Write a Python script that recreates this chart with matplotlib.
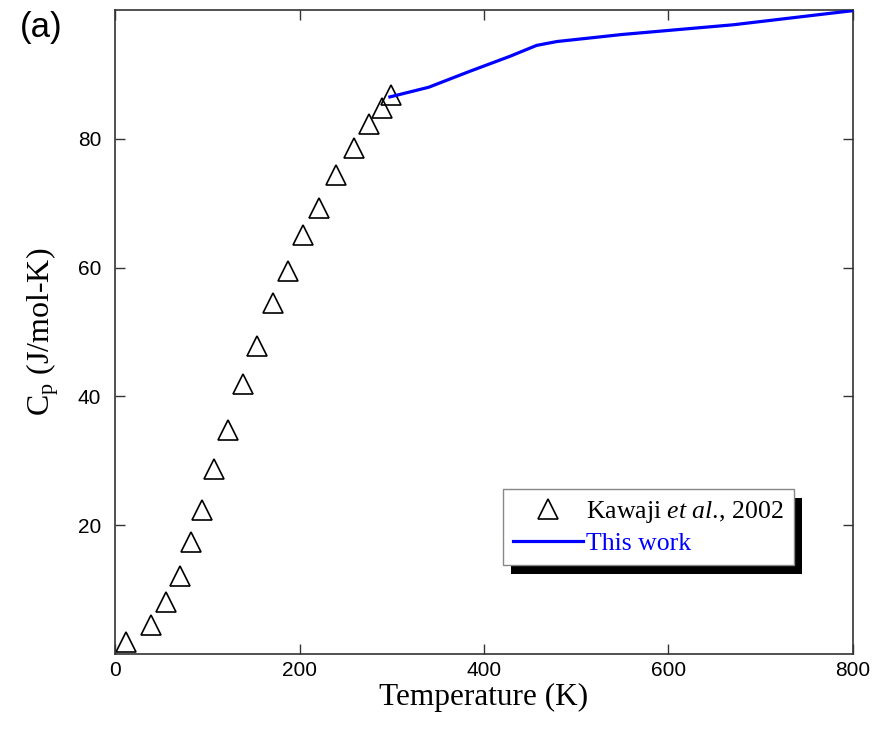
import matplotlib
matplotlib.use('Agg')
import matplotlib.pyplot as plt
from matplotlib.patches import Rectangle

plt.rcParams['mathtext.fontset'] = 'custom'
plt.rcParams['mathtext.rm'] = 'Liberation Serif'
plt.rcParams['mathtext.it'] = 'Liberation Serif:italic'

# Kawaji et al., 2002 (measured)
kawaji_T = [12, 39, 55, 70, 82, 94, 107, 122, 139, 154, 171, 187, 204, 221, 240, 259, 275, 289, 299]
kawaji_cp = [1.8, 4.5, 8.0, 12.1, 17.4, 22.3, 28.7, 34.8, 41.9, 47.8, 54.5, 59.5, 65.1, 69.3, 74.4, 78.6, 82.3, 84.8, 86.8]

# This work (calculated)
work_T = [298, 340, 385, 428, 457, 479, 550, 670, 800]
work_cp = [86.5, 88.0, 90.5, 92.8, 94.5, 95.1, 96.2, 97.7, 99.9]

fig = plt.figure(figsize=(8.76, 7.29), dpi=100)
ax = fig.add_axes([0.1313, 0.1029, 0.8424, 0.8834])

ax.plot(kawaji_T, kawaji_cp, linestyle='none', marker='^', markersize=14,
        markerfacecolor='none', markeredgecolor='black', markeredgewidth=1.2,
        label=r'Kawaji $\it{et\ al.}\!\mathrm{,}$ 2002')
ax.plot(work_T, work_cp, color='blue', linewidth=2.3, label='This work', zorder=3)

ax.set_xlim(0, 800)
ax.set_ylim(0, 100)
ax.set_xticks([0, 200, 400, 600, 800])
ax.set_yticks([20, 40, 60, 80])
ax.tick_params(direction='in', top=True, right=True, length=7, width=1,
               labelsize=15, color='#333333')
ax.tick_params(axis='x', pad=5)
ax.tick_params(axis='y', pad=10)
for lab in ax.get_xticklabels() + ax.get_yticklabels():
    lab.set_fontfamily('Liberation Sans')
for s in ax.spines.values():
    s.set_color('#333333')
    s.set_linewidth(1.2)

ax.set_xlabel('Temperature (K)', fontfamily='Liberation Serif', fontsize=22.5, labelpad=2)
ax.set_ylabel(r'C$_\mathrm{p}$ (J/mol-K)', fontfamily='Liberation Serif', fontsize=23, labelpad=12)

fig.text(0.023, 0.962, '(a)', fontfamily='Liberation Sans', fontsize=25, va='center')

leg = ax.legend(loc='upper left', bbox_to_anchor=(0.5257, 0.2562), fancybox=False,
                framealpha=1, edgecolor='#888888', borderaxespad=0,
                prop={'family': 'Liberation Serif', 'size': 18.5},
                labelcolor=['black', 'blue'], handlelength=2.7, handletextpad=0.15,
                borderpad=0.4, labelspacing=0.25)
leg.get_frame().set_linewidth(1.0)
leg.set_zorder(6)

# solid black drop shadow behind the legend box
fig.canvas.draw()
bb = leg.get_window_extent().transformed(ax.transAxes.inverted())
dx = 8 / (ax.bbox.width)
dy = 9 / (ax.bbox.height)
ax.add_patch(Rectangle((bb.x0 + dx, bb.y0 - dy), bb.width, bb.height,
                       transform=ax.transAxes, facecolor='black', edgecolor='none', zorder=5))

fig.savefig('out.png', dpi=100)
